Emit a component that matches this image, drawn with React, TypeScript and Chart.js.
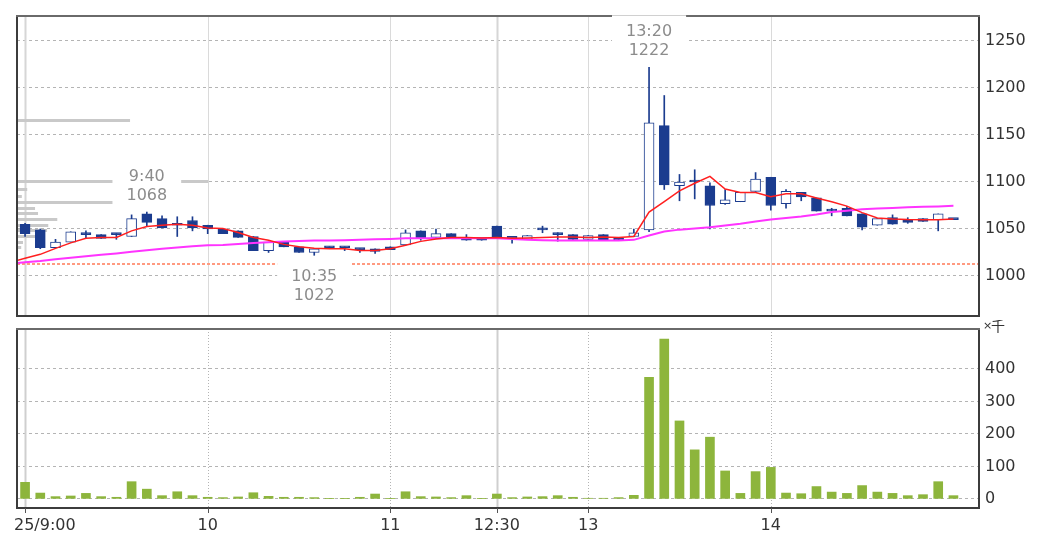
import React, { useEffect, useRef } from 'react';
import { Chart, registerables } from 'chart.js';

Chart.register(...registerables);

// ---- data ----
const times = [
  '9:00', '9:05', '9:10', '9:15', '9:20', '9:25', '9:30', '9:35', '9:40', '9:45', '9:50', '9:55',
  '10:00', '10:05', '10:10', '10:15', '10:20', '10:25', '10:30', '10:35', '10:40', '10:45', '10:50', '10:55',
  '11:00', '11:05', '11:10', '11:15', '11:20', '11:25', '11:30',
  '12:30', '12:35', '12:40', '12:45', '12:50', '12:55',
  '13:00', '13:05', '13:10', '13:15', '13:20', '13:25', '13:30', '13:35', '13:40', '13:45', '13:50', '13:55',
  '14:00', '14:05', '14:10', '14:15', '14:20', '14:25', '14:30', '14:35', '14:40', '14:45', '14:50', '14:55',
  '15:00',
];

const opens = [
  1055, 1049, 1030, 1036, 1044, 1044, 1044, 1042, 1066, 1061, 1054, 1059,
  1054, 1050, 1048, 1042, 1027, 1036, 1031, 1025, 1031, 1030, 1028, 1029,
  1031, 1033, 1048, 1041, 1045, 1041, 1041,
  1053, 1040, 1039, 1049, 1046, 1044,
  1039, 1044, 1040, 1042, 1049, 1160, 1096, 1100, 1096, 1077, 1079, 1090,
  1105, 1077, 1089, 1083, 1069, 1072, 1066, 1054, 1062, 1060, 1061, 1060,
  1060,
];
const highs = [
  1056, 1050, 1039, 1047, 1048, 1044, 1045, 1065, 1068, 1064, 1063, 1063,
  1054, 1050, 1048, 1042, 1036, 1036, 1031, 1029, 1031, 1031, 1029, 1029,
  1031, 1049, 1048, 1050, 1045, 1044, 1041,
  1053, 1040, 1043, 1053, 1046, 1044,
  1043, 1044, 1040, 1050, 1222, 1192, 1108, 1113, 1099, 1092, 1089, 1110,
  1105, 1092, 1089, 1083, 1072, 1074, 1066, 1061, 1065, 1062, 1061, 1066,
  1060,
];
const lows = [
  1042, 1029, 1030, 1036, 1040, 1040, 1039, 1042, 1053, 1051, 1042, 1048,
  1045, 1045, 1041, 1027, 1025, 1031, 1025, 1022, 1029, 1027, 1025, 1024,
  1028, 1033, 1038, 1041, 1041, 1038, 1038,
  1040, 1035, 1039, 1046, 1037, 1039,
  1039, 1038, 1038, 1042, 1047, 1092, 1080, 1082, 1050, 1076, 1079, 1090,
  1070, 1072, 1080, 1069, 1064, 1064, 1049, 1054, 1055, 1056, 1058, 1048,
  1060,
];
const closes = [
  1045, 1030, 1036, 1047, 1044, 1040, 1044, 1061, 1057, 1051, 1054, 1051,
  1050, 1045, 1041, 1027, 1036, 1031, 1025, 1029, 1030, 1030, 1028, 1026,
  1028, 1046, 1040, 1045, 1041, 1038, 1038,
  1040, 1040, 1043, 1049, 1044, 1039,
  1043, 1038, 1038, 1046, 1163, 1097, 1100, 1100, 1075, 1081, 1089, 1103,
  1075, 1090, 1084, 1069, 1069, 1064, 1052, 1061, 1055, 1057, 1058, 1066,
  1060,
];

// moving averages, first value belongs to the bar before 9:00 (previous session)
const maShort = [
  1014.5,
  1018.8, 1023, 1029.4, 1035.2, 1040.2, 1041, 1041, 1048, 1052.6, 1054, 1055, 1054,
  1051, 1050.5, 1046.3, 1041, 1038, 1033.6, 1031, 1029.6, 1029, 1029, 1027, 1027,
  1029, 1032.6, 1036.8, 1039.4, 1041, 1040.8, 1040.5,
  1040.8, 1040, 1040.5, 1041, 1041.5, 1041.5,
  1041, 1041.5, 1041, 1042, 1068, 1079, 1090.5, 1098.6, 1106, 1092.5, 1088.8, 1088.8,
  1084.4, 1087.5, 1087.5, 1083, 1079, 1074.3, 1067.4, 1061.6, 1060.6, 1060, 1059.8, 1059.8,
  1060.5,
];
const maLong = [
  1013,
  1014.6, 1016, 1017.8, 1019.3, 1021, 1022.5, 1024, 1025.7, 1027.3, 1029, 1030.2, 1031.5,
  1032.6, 1033, 1034, 1035, 1036, 1036.6, 1037.3, 1037.6, 1037.8, 1038, 1038.4, 1039,
  1039.4, 1040, 1040.2, 1040.2, 1040.2, 1040.2, 1040.2,
  1040.2, 1039.4, 1038.4, 1038, 1037.8, 1037.6,
  1037.6, 1037.6, 1037.8, 1038.4, 1043, 1047.4, 1049.3, 1050.5, 1051.8, 1053.7, 1055.6, 1058,
  1060, 1061.6, 1063.2, 1065.3, 1068, 1069.5, 1071, 1071.9, 1072.4, 1073, 1073.6, 1074,
  1074.6,
];

// volume in thousands of shares
const volumes = [
  51, 18, 7, 9, 17, 7, 5, 53, 30, 10, 22, 10,
  5, 4, 6, 19, 8, 5, 5, 4, 1, 1, 5, 15,
  1, 22, 7, 6, 4, 10, 1,
  15, 4, 6, 7, 10, 5,
  2, 2, 4, 11, 374, 492, 240, 151, 190, 86, 17, 84,
  97, 18, 16, 38, 21, 17, 41, 21, 17, 10, 13, 53,
  10,
];

// price-by-volume profile (thousands of shares)
const profilePrices = [1165, 1100, 1092, 1085, 1078, 1072, 1066, 1060, 1054, 1048, 1042, 1036, 1030];
const profileVolumes = [188, 318, 17, 8, 176, 30, 35, 67, 52, 50, 42, 10, 7];

const xTickTimes = ['9:00', '10:00', '11:00', '12:30', '13:00', '14:00'];
const xTickLabels = ['25/9:00', '10', '11', '12:30', '13', '14'];
const xMajorTimes = ['9:00', '12:30'];
const priceTicks = [1000, 1050, 1100, 1150, 1200, 1250];
const volumeTicks = [0, 100, 200, 300, 400];
const prevClose = 1013;

const noteTimes = ['9:40', '10:35', '13:20'];
const notePrices = [1068, 1022, 1222];
const noteAbove = [true, false, true];

// ---- styles ----
const NAVY = '#1b3c8f';
const FONT = "'DejaVu Sans', Verdana, sans-serif";
const X_MIN = -0.53;
const X_MAX = 62.68;

function drawFrame(ctx: CanvasRenderingContext2D, a: any) {
  ctx.save();
  ctx.lineWidth = 2;
  ctx.strokeStyle = '#3c3c3c';
  ctx.beginPath();
  ctx.moveTo(a.left, a.top);
  ctx.lineTo(a.left, a.bottom);
  ctx.lineTo(a.right, a.bottom);
  ctx.lineTo(a.right, a.top);
  ctx.stroke();
  ctx.strokeStyle = '#6a6a6a';
  ctx.beginPath();
  ctx.moveTo(a.left - 1, a.top);
  ctx.lineTo(a.right + 1, a.top);
  ctx.stroke();
  ctx.restore();
}

function drawVerticals(chart: any, dotted: boolean) {
  const { ctx, chartArea: a, scales } = chart;
  const x = scales.x;
  ctx.save();
  xTickTimes.forEach((t) => {
    const i = times.indexOf(t);
    const px = Math.round(x.getPixelForValue(i)) + 0.5;
    const major = xMajorTimes.includes(t);
    ctx.beginPath();
    if (major) {
      ctx.setLineDash([]);
      ctx.lineWidth = 2;
      ctx.strokeStyle = dotted ? '#cfcfcf' : '#d6d6d6';
    } else if (dotted) {
      ctx.setLineDash([1, 2]);
      ctx.lineWidth = 1;
      ctx.strokeStyle = '#b4b4b4';
    } else {
      ctx.setLineDash([]);
      ctx.lineWidth = 1;
      ctx.strokeStyle = '#dadada';
    }
    ctx.moveTo(px, a.top);
    ctx.lineTo(px, a.bottom);
    ctx.stroke();
  });
  ctx.restore();
}

const priceDecor = {
  id: 'priceDecor',
  beforeDatasetsDraw(chart: any) {
    const { ctx, chartArea: a, scales } = chart;
    const y = scales.y;
    const xp = scales.xp;
    drawVerticals(chart, false);
    ctx.save();
    // previous close
    const py = Math.round(y.getPixelForValue(prevClose));
    ctx.setLineDash([3, 2]);
    ctx.lineWidth = 2;
    ctx.strokeStyle = '#ff9a80';
    ctx.beginPath();
    ctx.moveTo(a.left, py);
    ctx.lineTo(a.right, py);
    ctx.stroke();
    ctx.setLineDash([]);
    // volume profile
    ctx.fillStyle = '#c9c9c9';
    profilePrices.forEach((p, k) => {
      const cy = y.getPixelForValue(p);
      const w = xp.getPixelForValue(profileVolumes[k]) - xp.getPixelForValue(0);
      ctx.fillRect(a.left, Math.round(cy - 1.5), w, 3);
    });
    ctx.restore();
  },
  afterDatasetsDraw(chart: any) {
    const { ctx, chartArea: a, scales } = chart;
    const x = scales.x;
    const y = scales.y;
    drawFrame(ctx, a);
    ctx.save();
    ctx.font = `16px ${FONT}`;
    ctx.textAlign = 'center';
    ctx.textBaseline = 'middle';
    noteTimes.forEach((t, k) => {
      const i = times.indexOf(t);
      const px = x.getPixelForValue(i);
      const py = y.getPixelForValue(notePrices[k]);
      const lines = [t, String(notePrices[k])];
      const c1 = noteAbove[k] ? py - 35 : py + 22;
      const c2 = c1 + 19;
      const w = Math.max(...lines.map((s) => ctx.measureText(s).width)) + 28;
      ctx.fillStyle = '#ffffff';
      ctx.fillRect(px - w / 2, c1 - 17, w, c2 - c1 + 30);
      ctx.fillStyle = '#8c8c8c';
      ctx.fillText(lines[0], px, c1);
      ctx.fillText(lines[1], px, c2);
    });
    ctx.restore();
  },
};

const volumeDecor = {
  id: 'volumeDecor',
  beforeDatasetsDraw(chart: any) {
    drawVerticals(chart, true);
  },
  afterDraw(chart: any) {
    const { ctx, chartArea: a, scales } = chart;
    const x = scales.x;
    drawFrame(ctx, a);
    ctx.save();
    // tick marks below the frame
    ctx.strokeStyle = '#555555';
    ctx.lineWidth = 1;
    xTickTimes.forEach((t) => {
      const px = Math.round(x.getPixelForValue(times.indexOf(t))) + 0.5;
      ctx.beginPath();
      ctx.moveTo(px, a.bottom);
      ctx.lineTo(px, a.bottom + 5);
      ctx.stroke();
    });
    ctx.font = `16px ${FONT}`;
    ctx.fillStyle = '#333333';
    ctx.textBaseline = 'middle';
    xTickTimes.forEach((t, k) => {
      const i = times.indexOf(t);
      const px = x.getPixelForValue(i);
      if (k === 0) {
        ctx.textAlign = 'left';
        ctx.fillText(xTickLabels[k], a.left - 3, a.bottom + 18);
      } else {
        ctx.textAlign = 'center';
        ctx.fillText(xTickLabels[k], px, a.bottom + 18);
      }
    });
    ctx.textAlign = 'left';
    ctx.font = `11px ${FONT}`;
    ctx.fillText('×', a.right + 4, a.top - 3);
    ctx.font = `14px 'Noto Sans CJK JP', sans-serif`;
    ctx.fillText('千', a.right + 12, a.top - 3);
    ctx.restore();
  },
};

const xScale = {
  type: 'linear',
  display: false,
  min: X_MIN,
  max: X_MAX,
  offset: false,
  bounds: 'data',
  grace: 0,
  grid: { offset: false },
};

const fixRightAxis = (s: any) => {
  s.width = 66;
  s.paddingTop = 0;
  s.paddingBottom = 0;
};

export default function App() {
  const priceRef = useRef<HTMLCanvasElement | null>(null);
  const volRef = useRef<HTMLCanvasElement | null>(null);

  useEffect(() => {
    Chart.defaults.font.family = FONT;
    Chart.defaults.font.size = 16;
    Chart.defaults.color = '#333333';

    const idx = times.map((_, i) => i);
    const wickData = idx.map((i) => ({ x: i, y: [lows[i], highs[i]] }));
    const bodyData = idx.map((i) => ({
      x: i,
      y: [Math.min(opens[i], closes[i]), Math.max(opens[i], closes[i])],
    }));
    const bodyFill = idx.map((i) => (closes[i] > opens[i] ? '#ffffff' : NAVY));
    const shortData = maShort.map((v, k) => ({ x: k - 1, y: v }));
    const longData = maLong.map((v, k) => ({ x: k - 1, y: v }));

    const price = new Chart(priceRef.current as HTMLCanvasElement, {
      type: 'bar',
      data: {
        datasets: [
          {
            type: 'bar',
            label: 'wick',
            data: wickData as any,
            backgroundColor: NAVY,
            borderWidth: 0,
            barThickness: 1,
            grouped: false,
            order: 4,
          } as any,
          {
            type: 'bar',
            label: 'body',
            data: bodyData as any,
            backgroundColor: bodyFill,
            borderColor: NAVY,
            borderWidth: 1,
            borderSkipped: false,
            barThickness: 10,
            minBarLength: 2,
            grouped: false,
            order: 3,
          } as any,
          {
            type: 'line',
            label: 'MA long',
            data: longData as any,
            borderColor: '#ff33ff',
            borderWidth: 2,
            pointRadius: 0,
            tension: 0,
            order: 2,
          } as any,
          {
            type: 'line',
            label: 'MA short',
            data: shortData as any,
            borderColor: '#ff1f1f',
            borderWidth: 1.5,
            pointRadius: 0,
            tension: 0,
            order: 1,
          } as any,
        ],
      },
      options: {
        animation: false,
        responsive: false,
        events: [],
        layout: { padding: { left: 17, top: 16, right: 0, bottom: 4 } },
        plugins: { legend: { display: false }, tooltip: { enabled: false } },
        scales: {
          x: { ...xScale },
          xp: { type: 'linear', display: false, min: 0, max: 1600, position: 'top', offset: false },
          y: {
            type: 'linear',
            position: 'right',
            min: 957.4,
            max: 1276.6,
            afterBuildTicks: (s: any) => {
              s.ticks = priceTicks.map((v) => ({ value: v }));
            },
            afterFit: fixRightAxis,
            grid: { color: '#b4b4b4', drawTicks: false, lineWidth: 1 },
            border: { display: false, dash: [3, 3] },
            ticks: {
              padding: 6,
              color: '#333333',
              font: { size: 16, family: FONT },
              callback: (v: any) => String(v),
            },
          },
        },
      } as any,
      plugins: [priceDecor],
    });

    const vol = new Chart(volRef.current as HTMLCanvasElement, {
      type: 'bar',
      data: {
        datasets: [
          {
            label: 'volume',
            data: idx.map((i) => ({ x: i, y: volumes[i] })) as any,
            backgroundColor: '#8db53c',
            borderWidth: 0,
            barThickness: 9,
            grouped: false,
          } as any,
        ],
      },
      options: {
        animation: false,
        responsive: false,
        events: [],
        layout: { padding: { left: 17, top: 9, right: 0, bottom: 46 } },
        plugins: { legend: { display: false }, tooltip: { enabled: false } },
        scales: {
          x: { ...xScale },
          y: {
            type: 'linear',
            position: 'right',
            min: -28,
            max: 523,
            afterBuildTicks: (s: any) => {
              s.ticks = volumeTicks.map((v) => ({ value: v }));
            },
            afterFit: fixRightAxis,
            grid: { color: '#b4b4b4', drawTicks: false, lineWidth: 1 },
            border: { display: false, dash: [3, 3] },
            ticks: {
              padding: 6,
              color: '#333333',
              font: { size: 16, family: FONT },
              callback: (v: any) => String(v),
            },
          },
        },
      } as any,
      plugins: [volumeDecor],
    });

    return () => {
      price.destroy();
      vol.destroy();
    };
  }, []);

  return (
    <div style={{ position: 'fixed', left: 0, top: 0, width: 1045, height: 554, background: '#ffffff' }}>
      <canvas ref={priceRef} width={1045} height={320} style={{ position: 'absolute', left: 0, top: 0, width: 1045, height: 320 }} />
      <canvas ref={volRef} width={1045} height={234} style={{ position: 'absolute', left: 0, top: 320, width: 1045, height: 234 }} />
    </div>
  );
}
